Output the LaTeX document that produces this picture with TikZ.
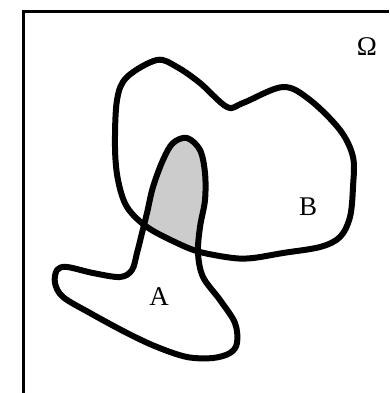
\documentclass[tikz,border=0pt]{standalone}
\usepackage{fontspec}
\setmainfont{Liberation Serif}
\begin{document}
\begin{tikzpicture}[x=1pt,y=-1pt,
  curve/.style={line width=6pt,line join=round},
  frame/.style={line width=3pt},
  lbl/.style={font=\fontsize{27}{32}\selectfont,inner sep=0pt}]
\useasboundingbox (0,0) rectangle (389,393);
\def\pathB{plot[smooth cycle,tension=0.55] coordinates {(117,100) (127,77) (157,60) (177,67) (200,83) (227,107) (243,103) (283,87) (310,100) (340,130) (353,157) (353,187) (350,217) (340,237) (320,247) (283,253) (253,258) (233,258) (200,252) (177,243) (147,227) (127,207) (118,180) (115,147)}}
\def\pathA{plot[smooth cycle,tension=0.55] coordinates {(187,138) (200,150) (205,173) (205,200) (200,227) (198,253) (203,277) (220,300) (235,323) (237,343) (230,353) (213,358) (187,357) (157,347) (127,333) (90,313) (63,297) (55,283) (57,270) (67,267) (93,273) (120,277) (132,270) (137,253) (142,233) (147,213) (153,187) (163,160) (173,143)}}
\begin{scope}
  \clip \pathA;
  \fill[gray!40] \pathB;
\end{scope}
\draw[curve] \pathB;
\draw[curve] \pathA;
\coordinate (tl) at (23,12);
\coordinate (tr) at (389,12);
\coordinate (bl) at (23,393);
\draw[frame] (tr) -- (tl) -- (bl);
\node[lbl] (B) at (308,207) {B};
\node[lbl] (A) at (159,297) {A};
\node[lbl] (Om) at (367,47) {Ω};
\end{tikzpicture}
\end{document}
